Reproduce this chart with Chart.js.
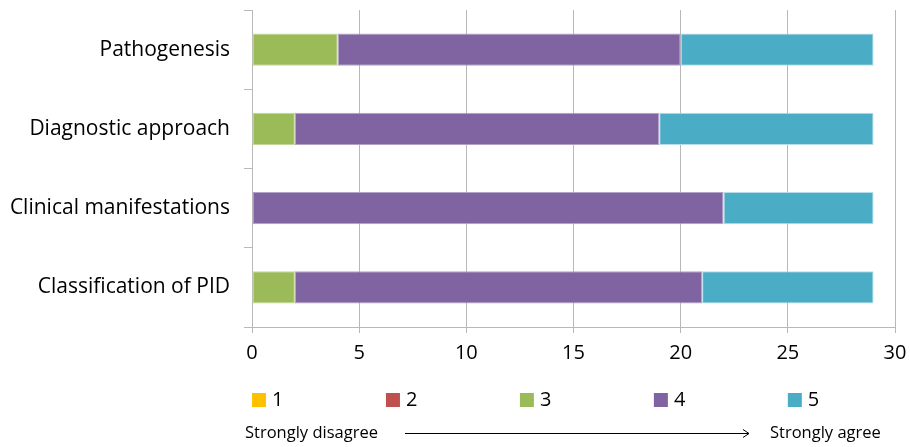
<!DOCTYPE html>
<html>
<head>
<meta charset="utf-8">
<script src="https://cdn.jsdelivr.net/npm/chart.js@4"></script>
<style>
html,body{margin:0;padding:0;background:#fff;}
#wrap{width:910px;height:447px;}
</style>
</head>
<body>
<div id="wrap"><canvas id="c" width="910" height="447"></canvas></div>
<script>
const categories = ['Pathogenesis', 'Diagnostic approach', 'Clinical manifestations', 'Classification of PID'];
const seriesLabels = ['1', '2', '3', '4', '5'];
const s1 = [0, 0, 0, 0];
const s2 = [0, 0, 0, 0];
const s3 = [4, 2, 0, 2];
const s4 = [16, 17, 22, 19];
const s5 = [9, 10, 7, 8];
const xTicks = [0, 5, 10, 15, 20, 25, 30];
const scaleNote = ['Strongly disagree', 'Strongly agree'];

const colors = ['#FFC000', '#C0504D', '#9BBB59', '#8064A2', '#4BACC6'];
const borders = ['#FFD966', '#D99694', '#C3D69B', '#B3A2C7', '#B7DEE8'];
const FONT = '"Open Sans", Lato, sans-serif';
const gridColor = '#b8b8b8';

const datasets = [s1, s2, s3, s4, s5].map((d, i) => ({
  label: seriesLabels[i],
  data: d,
  backgroundColor: colors[i],
  borderColor: borders[i],
  borderWidth: 1,
  borderSkipped: false,
  barPercentage: 0.41,
  categoryPercentage: 1.0
}));

const bottomLegend = {
  id: 'bottomLegend',
  afterDraw(chart) {
    const ctx = chart.ctx;
    const area = chart.chartArea;
    const step = (area.right - area.left) / 4.8;
    ctx.save();
    chart.data.datasets.forEach((ds, i) => {
      const x = area.left + i * step;
      const y = 393;
      ctx.fillStyle = ds.backgroundColor;
      ctx.fillRect(x, y, 14, 14);
      ctx.fillStyle = '#000';
      ctx.font = '20px ' + FONT;
      ctx.textBaseline = 'middle';
      ctx.textAlign = 'left';
      ctx.fillText(ds.label, x + 20, y + 7);
    });
    ctx.font = '16.5px ' + FONT;
    ctx.textBaseline = 'middle';
    ctx.fillStyle = '#000';
    ctx.fillText(scaleNote[0], 245, 433);
    ctx.fillText(scaleNote[1], 770, 433);
    ctx.strokeStyle = '#000';
    ctx.lineWidth = 1;
    ctx.beginPath();
    ctx.moveTo(405, 433.5);
    ctx.lineTo(749, 433.5);
    ctx.moveTo(743, 429.5);
    ctx.lineTo(749, 433.5);
    ctx.lineTo(743, 437.5);
    ctx.stroke();
    ctx.restore();
  }
};

new Chart(document.getElementById('c'), {
  type: 'bar',
  data: { labels: categories, datasets: datasets },
  plugins: [bottomLegend],
  options: {
    indexAxis: 'y',
    responsive: false,
    animation: false,
    devicePixelRatio: 1,
    layout: { padding: { top: 10, right: 15, bottom: 0, left: 0 } },
    plugins: { legend: { display: false }, tooltip: { enabled: false } },
    scales: {
      x: {
        stacked: true,
        min: 0,
        max: 30,
        afterBuildTicks(scale) { scale.ticks = xTicks.map(v => ({ value: v })); },
        afterFit(scale) { scale.height = 120; scale.paddingLeft = 0; scale.paddingRight = 0; },
        grid: { color: gridColor, lineWidth: 1, tickLength: 6, drawTicks: true },
        border: { display: true, color: gridColor, width: 1 },
        ticks: { color: '#000', font: { family: FONT, size: 20 }, padding: 8, maxRotation: 0 }
      },
      y: {
        stacked: true,
        afterFit(scale) { scale.width = 252; scale.paddingTop = 0; scale.paddingBottom = 0; },
        grid: { display: true, drawOnChartArea: false, offset: true, color: gridColor, tickLength: 8 },
        border: { display: true, color: gridColor, width: 1 },
        ticks: { color: '#000', font: { family: FONT, size: 21 }, padding: 14 }
      }
    }
  }
});
</script>
</body>
</html>
